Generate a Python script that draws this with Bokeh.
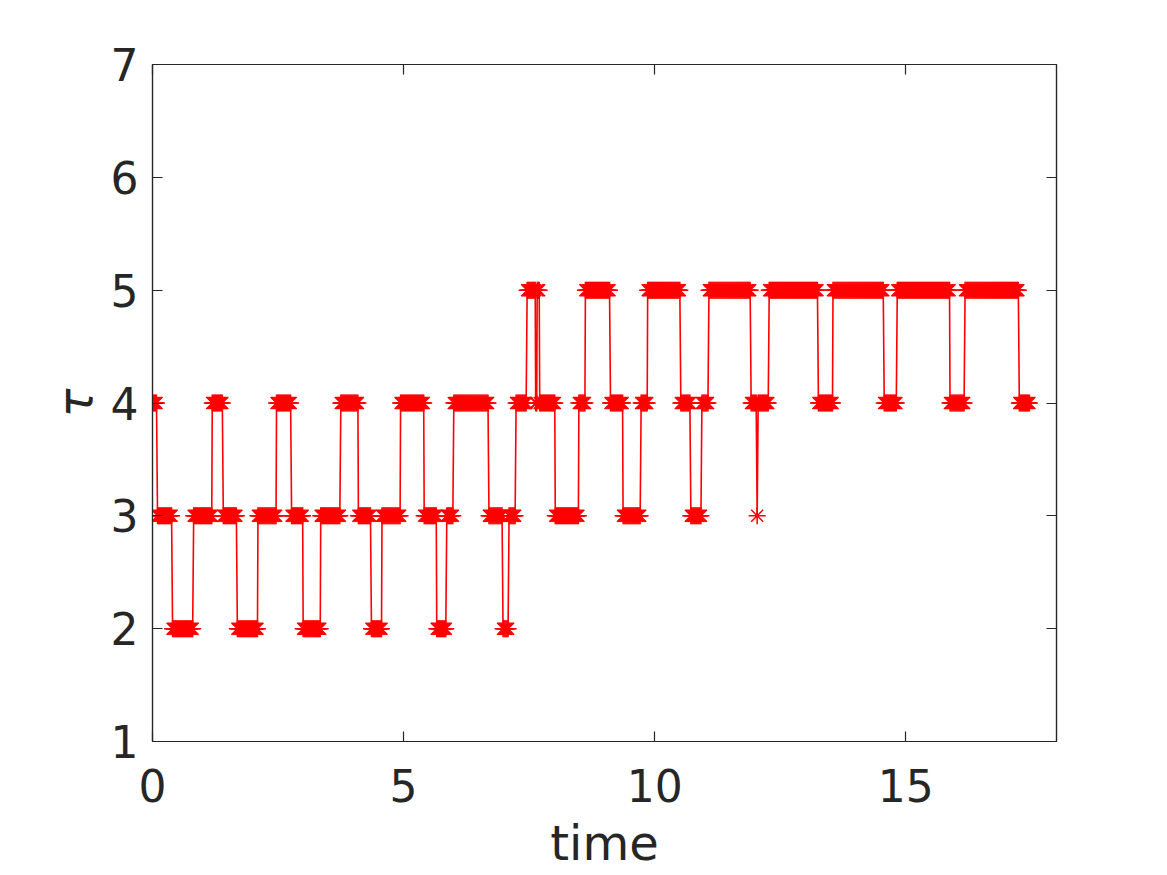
import numpy as np
from bokeh.plotting import figure
from bokeh.models import LinearAxis, FixedTicker, Range1d, ColumnDataSource
from bokeh.embed import file_html
from bokeh.resources import INLINE

# Piecewise-constant tau(time): segment i spans [bounds[i], bounds[i+1]) at level levels[i]
bounds = [0.00, 0.10, 0.40, 0.82, 1.19, 1.41, 1.69, 2.10, 2.47, 2.77,
          3.00, 3.35, 3.75, 4.10, 4.36, 4.57, 4.94, 5.41, 5.66, 5.86,
          6.00, 6.70, 6.98, 7.10, 7.24, 7.46, 7.63, 7.66, 7.71, 8.02,
          8.49, 8.62, 9.12, 9.37, 9.73, 9.86, 10.52, 10.72, 10.94, 11.08,
          11.92, 12.04, 12.06, 12.28, 13.26, 13.55, 14.57, 14.83, 15.88, 16.18,
          17.26, 17.47]
levels = [4, 3, 2, 3, 4, 3, 2, 3, 4, 3,
          2, 3, 4, 3, 2, 3, 4, 3, 2, 3,
          4, 3, 2, 3, 4, 5, 4, 5, 4, 3,
          4, 5, 4, 3, 4, 5, 4, 3, 4, 5,
          4, 3, 4, 5, 4, 5, 4, 5, 4, 5,
          4]
sample_step = 0.02  # time step of the recorded samples

x_ticks = [0, 5, 10, 15]
y_ticks = [1, 2, 3, 4, 5, 6, 7]
x_label = "time"
y_label = "τ"

t_pts, tau_pts = [], []
for i, lev in enumerate(levels):
    a, b = bounds[i], bounds[i + 1]
    last = (i == len(levels) - 1)
    ts = np.arange(a, b + (1e-9 if last else -1e-9), sample_step)
    if len(ts) == 0:
        ts = np.array([a])
    t_pts.extend(ts.tolist())
    tau_pts.extend([lev] * len(ts))

src = ColumnDataSource(dict(t=t_pts, tau=tau_pts))

AX = "#262626"
FONT = "DejaVu Sans"

p = figure(width=1150, height=874, x_range=Range1d(0, 18), y_range=Range1d(1, 7),
           output_backend="svg", toolbar_location=None,
           min_border_left=152, min_border_right=94, min_border_top=64, min_border_bottom=133)
p.grid.visible = False
p.outline_line_color = AX
p.outline_line_width = 1.2
p.background_fill_color = "white"
p.border_fill_color = "white"

p.line("t", "tau", source=src, line_color="red", line_width=1.6)
p.scatter("t", "tau", source=src, marker="asterisk", size=17, line_color="red", line_width=1.5)

def style_axis(ax, ticks, show_labels=True):
    ax.ticker = FixedTicker(ticks=ticks)
    ax.minor_tick_line_color = None
    ax.major_tick_in = 10
    ax.major_tick_out = 0
    ax.major_tick_line_color = AX
    ax.major_tick_line_width = 1.2
    ax.axis_line_color = AX
    ax.axis_line_width = 1.2
    ax.major_label_text_font = FONT
    ax.major_label_text_color = AX
    if show_labels:
        ax.major_label_text_font_size = "44px"
    else:
        ax.major_label_text_font_size = "0px"
        ax.major_label_text_alpha = 0

style_axis(p.xaxis[0], x_ticks)
style_axis(p.yaxis[0], y_ticks)
p.xaxis[0].major_label_standoff = 27
p.yaxis[0].major_label_standoff = 14

p.xaxis[0].axis_label = x_label
p.xaxis[0].axis_label_text_font = FONT
p.xaxis[0].axis_label_text_font_size = "48px"
p.xaxis[0].axis_label_text_font_style = "normal"
p.xaxis[0].axis_label_text_color = AX
p.xaxis[0].axis_label_standoff = 10

p.yaxis[0].axis_label = y_label
p.yaxis[0].axis_label_text_font = FONT
p.yaxis[0].axis_label_text_font_size = "48px"
p.yaxis[0].axis_label_text_font_style = "italic"
p.yaxis[0].axis_label_text_color = AX
p.yaxis[0].axis_label_standoff = 5

right = LinearAxis()
style_axis(right, y_ticks, show_labels=False)
p.add_layout(right, "right")
top = LinearAxis()
style_axis(top, x_ticks, show_labels=False)
p.add_layout(top, "above")

open("out.html", "w").write(file_html(p, INLINE))
